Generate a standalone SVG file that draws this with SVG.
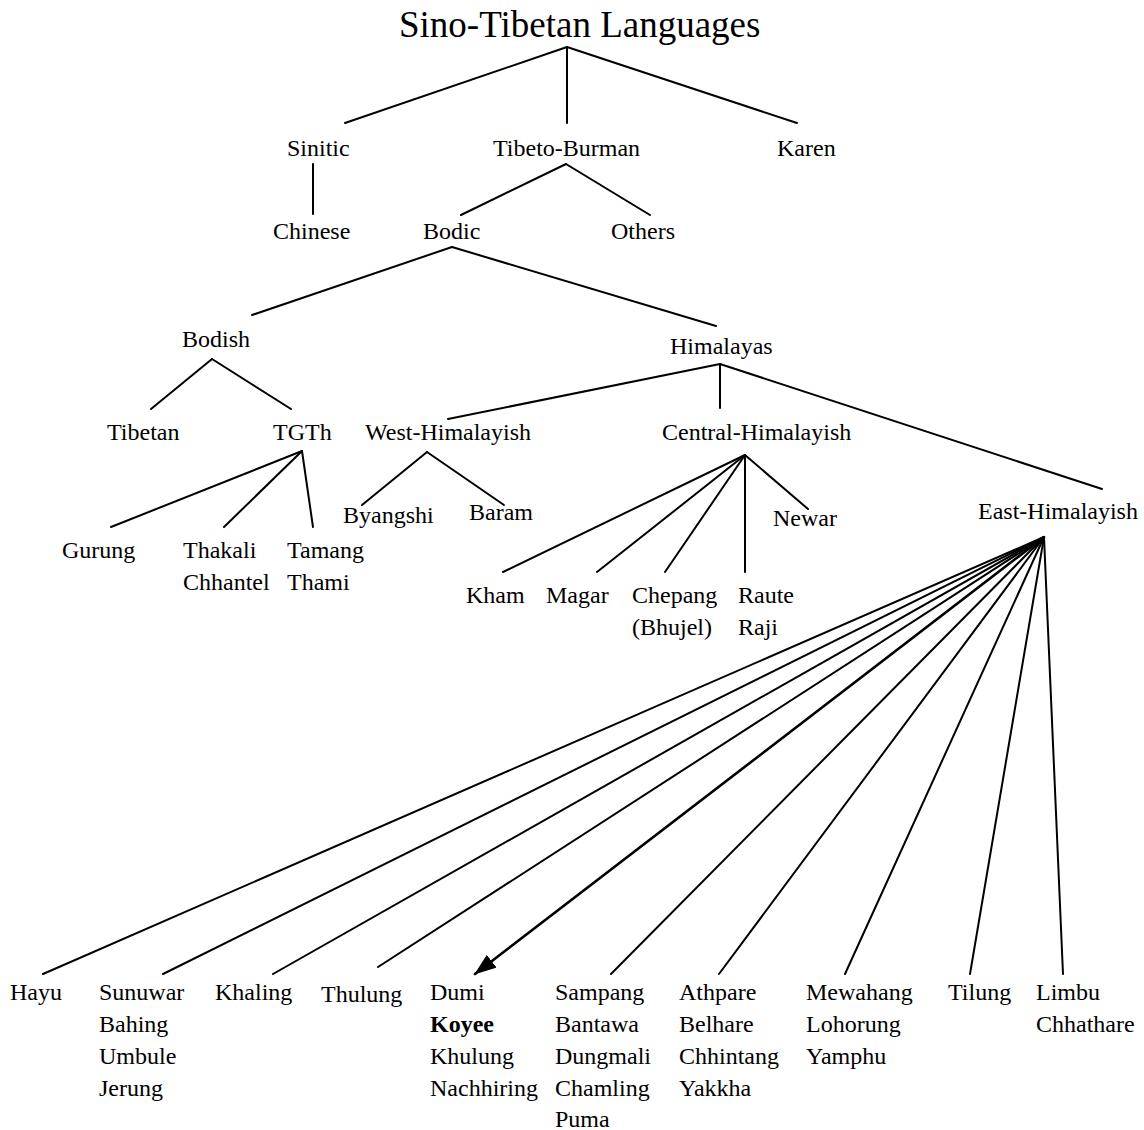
<svg xmlns="http://www.w3.org/2000/svg" width="1144" height="1130" viewBox="0 0 1144 1130">
<style>
text{font-family:"Liberation Serif","Times New Roman",serif;font-size:24px;fill:#000}
.title{font-size:37px}
.b{font-weight:bold}
.c line{stroke:#000;stroke-width:2;stroke-linecap:round}
</style>
<defs>
<marker id="ah" markerWidth="10" markerHeight="8" refX="9" refY="4" orient="auto" markerUnits="userSpaceOnUse" viewBox="0 0 10 8">
<path d="M0,0 L10,4 L0,8 z" fill="#000"/>
</marker>
<marker id="ah2" viewBox="0 0 22 16" refX="21" refY="8" markerWidth="22" markerHeight="16" orient="auto" markerUnits="userSpaceOnUse">
<path d="M0,0 L22,8 L0,16 z" fill="#000"/>
</marker>
</defs>
<rect width="1144" height="1130" fill="#fff"/>
<g class="c" id="connectors">
<line x1="567" y1="47" x2="345" y2="123"/>
<line x1="567" y1="47" x2="567" y2="123"/>
<line x1="567" y1="47" x2="797" y2="123"/>
<line x1="313" y1="164" x2="313" y2="214"/>
<line x1="566" y1="164" x2="461" y2="215"/>
<line x1="566" y1="164" x2="650" y2="215"/>
<line x1="452" y1="247" x2="252" y2="315"/>
<line x1="452" y1="247" x2="716" y2="326"/>
<line x1="212" y1="359" x2="151" y2="409"/>
<line x1="212" y1="359" x2="291" y2="409"/>
<line x1="720" y1="364" x2="448" y2="419"/>
<line x1="720" y1="364" x2="720" y2="408"/>
<line x1="720" y1="364" x2="1102" y2="489"/>
<line x1="302" y1="451" x2="111" y2="527"/>
<line x1="302" y1="451" x2="224" y2="527"/>
<line x1="302" y1="451" x2="313" y2="527"/>
<line x1="427" y1="452" x2="362" y2="505"/>
<line x1="427" y1="452" x2="504" y2="505"/>
<line x1="745" y1="455" x2="503" y2="572"/>
<line x1="745" y1="455" x2="597" y2="572"/>
<line x1="745" y1="455" x2="665" y2="572"/>
<line x1="745" y1="455" x2="745" y2="572"/>
<line x1="745" y1="455" x2="808" y2="509"/>
<line x1="1044" y1="537" x2="43" y2="974"/>
<line x1="1044" y1="537" x2="163" y2="974"/>
<line x1="1044" y1="537" x2="273" y2="974"/>
<line x1="1044" y1="537" x2="378" y2="967"/>
<line x1="1044" y1="537" x2="475" y2="974" style="stroke-width:2.6" marker-end="url(#ah2)"/>
<line x1="1044" y1="537" x2="611" y2="974"/>
<line x1="1044" y1="537" x2="719" y2="974"/>
<line x1="1044" y1="537" x2="845" y2="974"/>
<line x1="1044" y1="537" x2="970" y2="974"/>
<line x1="1044" y1="537" x2="1063" y2="974"/>
</g>
<g id="n-root"><text class="title" x="399" y="37">Sino-Tibetan Languages</text></g>
<g id="n-sinitic"><text x="287" y="156">Sinitic</text></g>
<g id="n-tibetoburman"><text x="493" y="156">Tibeto-Burman</text></g>
<g id="n-karen"><text x="777" y="156">Karen</text></g>
<g id="n-chinese"><text x="273" y="239">Chinese</text></g>
<g id="n-bodic"><text x="423" y="239">Bodic</text></g>
<g id="n-others"><text x="611" y="239">Others</text></g>
<g id="n-bodish"><text x="182" y="347">Bodish</text></g>
<g id="n-himalayas"><text x="670" y="354">Himalayas</text></g>
<g id="n-tibetan"><text x="107" y="440">Tibetan</text></g>
<g id="n-tgth"><text x="273" y="440">TGTh</text></g>
<g id="n-westh"><text x="365" y="440">West-Himalayish</text></g>
<g id="n-centralh"><text x="662" y="440">Central-Himalayish</text></g>
<g id="n-byangshi"><text x="343" y="523">Byangshi</text></g>
<g id="n-baram"><text x="469" y="520">Baram</text></g>
<g id="n-newar"><text x="773" y="526">Newar</text></g>
<g id="n-easth"><text x="978" y="519">East-Himalayish</text></g>
<g id="n-gurung"><text x="62" y="558">Gurung</text></g>
<g id="n-thakali"><text x="183" y="558">Thakali</text><text x="183" y="590">Chhantel</text></g>
<g id="n-tamang"><text x="287" y="558">Tamang</text><text x="287" y="590">Thami</text></g>
<g id="n-kham"><text x="466" y="603">Kham</text></g>
<g id="n-magar"><text x="546" y="603">Magar</text></g>
<g id="n-chepang"><text x="632" y="603">Chepang</text><text x="632" y="635">(Bhujel)</text></g>
<g id="n-raute"><text x="738" y="603">Raute</text><text x="738" y="635">Raji</text></g>
<g id="n-hayu"><text x="10" y="1000">Hayu</text></g>
<g id="n-sunuwar"><text x="99" y="1000">Sunuwar</text><text x="99" y="1032">Bahing</text><text x="99" y="1064">Umbule</text><text x="99" y="1096">Jerung</text></g>
<g id="n-khaling"><text x="215" y="1000">Khaling</text></g>
<g id="n-thulung"><text x="321" y="1002">Thulung</text></g>
<g id="n-dumi"><text x="430" y="1000">Dumi</text><text class="b" x="430" y="1032">Koyee</text><text x="430" y="1064">Khulung</text><text x="430" y="1096">Nachhiring</text></g>
<g id="n-sampang"><text x="555" y="1000">Sampang</text><text x="555" y="1032">Bantawa</text><text x="555" y="1064">Dungmali</text><text x="555" y="1096">Chamling</text><text x="555" y="1127">Puma</text></g>
<g id="n-athpare"><text x="679" y="1000">Athpare</text><text x="679" y="1032">Belhare</text><text x="679" y="1064">Chhintang</text><text x="679" y="1096">Yakkha</text></g>
<g id="n-mewahang"><text x="806" y="1000">Mewahang</text><text x="806" y="1032">Lohorung</text><text x="806" y="1064">Yamphu</text></g>
<g id="n-tilung"><text x="948" y="1000">Tilung</text></g>
<g id="n-limbu"><text x="1036" y="1000">Limbu</text><text x="1036" y="1032">Chhathare</text></g>
</svg>
